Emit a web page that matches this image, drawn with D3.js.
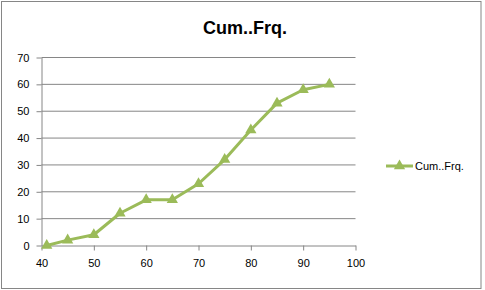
<!DOCTYPE html>
<html><head><meta charset="utf-8">
<script src="https://cdn.jsdelivr.net/npm/d3@7"></script>
<style>body{margin:0;background:#fff}svg{display:block}</style>
</head><body>
<script>
const xValues = [41, 45, 50, 55, 60, 65, 70, 75, 80, 85, 90, 95];
const cumFrq = [0, 2, 4, 12, 17, 17, 23, 32, 43, 53, 58, 60];
const xTicks = [40, 50, 60, 70, 80, 90, 100];
const yTicks = [0, 10, 20, 30, 40, 50, 60, 70];
const seriesName = "Cum..Frq.";
const title = "Cum..Frq.";

const W = 485, H = 290;
const font = "'Liberation Sans', Arial, sans-serif";
const color = "#9BBB59";
const gray = "#868686";

const svg = d3.select("body").append("svg").attr("width", W).attr("height", H);
svg.append("rect").attr("x", 1.5).attr("y", 1.5).attr("width", 479.5).attr("height", 287)
  .attr("fill", "#fff").attr("stroke", gray).attr("stroke-width", 1);

const x = d3.scaleLinear().domain([40, 100]).range([41.5, 355.5]);
const y = d3.scaleLinear().domain([0, 70]).range([245.5, 57.5]);

// gridlines
svg.append("g").selectAll("line").data(yTicks.filter(d => d > 0)).join("line")
  .attr("x1", x(40)).attr("x2", x(100)).attr("y1", d => y(d)).attr("y2", d => y(d))
  .attr("stroke", gray).attr("stroke-width", 1);

const yAxis = svg.append("g").attr("transform", `translate(${x(40)},0)`)
  .call(d3.axisLeft(y).tickValues(yTicks).tickSize(5).tickSizeOuter(0).tickPadding(7));
const xAxis = svg.append("g").attr("transform", `translate(0,${y(0)})`)
  .call(d3.axisBottom(x).tickValues(xTicks).tickSize(5).tickSizeOuter(0).tickPadding(9));
[yAxis, xAxis].forEach(a => {
  a.select(".domain").attr("stroke", gray);
  a.selectAll(".tick line").attr("stroke", gray);
  a.selectAll("text").attr("font-family", font).attr("font-size", 11).attr("fill", "#000");
});

const data = xValues.map((v, i) => ({x: v, y: cumFrq[i]}));
svg.append("path").datum(data)
  .attr("fill", "none").attr("stroke", color).attr("stroke-width", 3).attr("stroke-linejoin", "round")
  .attr("d", d3.line().x(d => x(d.x)).y(d => y(d.y)));

const tri = d3.symbol().type(d3.symbolTriangle).size(55);
svg.append("g").selectAll("path").data(data).join("path")
  .attr("transform", d => `translate(${x(d.x)},${y(d.y)})`)
  .attr("d", tri).attr("fill", color);

svg.append("text").attr("x", 245).attr("y", 34).attr("text-anchor", "middle")
  .attr("font-family", font).attr("font-weight", "bold").attr("font-size", 18).text(title);

// legend
const lg = svg.append("g").attr("transform", "translate(386,166)");
lg.append("line").attr("x1", 0).attr("x2", 27).attr("y1", 0).attr("y2", 0)
  .attr("stroke", color).attr("stroke-width", 3);
lg.append("path").attr("transform", "translate(13.5,0)").attr("d", tri).attr("fill", color);
lg.append("text").attr("x", 29).attr("y", 4).attr("font-family", font).attr("font-size", 11).text(seriesName);
</script>
</body></html>
